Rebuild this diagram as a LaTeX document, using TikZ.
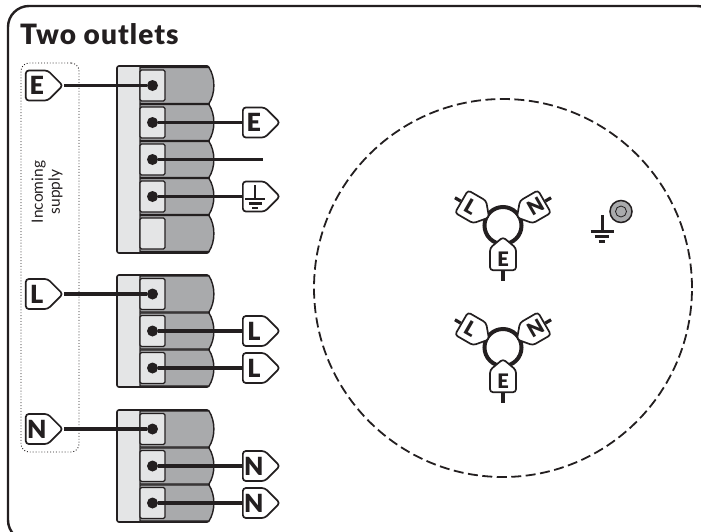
\documentclass[tikz,border=0pt]{standalone}
\usepackage{fontspec}
\setmainfont{Lato}[BoldFont=Lato Black]
\usetikzlibrary{shapes, positioning}
\definecolor{bodygrey}{HTML}{E4E5E6}
\definecolor{cellgrey}{HTML}{A9AAAC}
\definecolor{inkdark}{HTML}{231F20}
\tikzstyle{wire} = [draw=inkdark, line width=3.2pt]
\tikzstyle{blockbody} = [draw=inkdark, fill=bodygrey, line width=1.6pt, rounded corners=2pt]
\tikzstyle{cellbody} = [draw=inkdark, fill=cellgrey, line width=1.4pt]
\tikzstyle{cellbox} = [rectangle, draw=inkdark, fill=bodygrey, line width=1.1pt, rounded corners=1.5pt,
  minimum width=25pt, minimum height=31pt, inner sep=0pt]
\tikzstyle{pin} = [circle, fill=inkdark, minimum size=11pt, inner sep=0pt]
\tikzstyle{tagright} = [signal, signal to=east, draw=inkdark, fill=white, line width=1.7pt,
  rounded corners=3pt, minimum width=37pt, minimum height=30pt, inner sep=0pt,
  text=inkdark, font=\fontsize{25}{25}\selectfont\bfseries]
\tikzstyle{tagup} = [signal, signal to=north, signal pointer angle=100, draw=inkdark, fill=white, line width=1.7pt,
  rounded corners=3pt, minimum width=26pt, minimum height=27pt, inner sep=0pt,
  text=inkdark, font=\fontsize{20}{20}\selectfont\bfseries]

% terminal block: name, top, bottom, row centres
\newcommand{\termblock}[4]{
  \draw [blockbody] (117,#2) rectangle (209,#3);
  \foreach \y [count=\n] in {#4} {
    \draw [cellbody] (140,\y-18) -- (209,\y-18) .. controls (215.5,\y-8) and (215.5,\y+8) .. (209,\y+18) -- (140,\y+18) -- cycle;
    \node [cellbox] (#1box\n) at (152.5,\y) {};
  }
}
% three tags round a ring: name, ring centre y
\newcommand{\outletsym}[2]{
  \node [circle, draw=inkdark, line width=4pt, minimum size=37pt, inner sep=0pt] (#1ring) at (503,#2) {};
  \foreach \lab/\ang/\gap/\turn in {L/-120/15/90, N/120/15/-90, E/0/10.5/0} {
    \begin{scope}[rotate around={\ang:(503,#2)}, transform shape]
      \coordinate (#1end\lab) at (503,#2+55.5);
      \node [tagup, anchor=north] (#1tag\lab) at (503,#2+\gap) {\rotatebox{\turn}{\lab}};
      \path [wire] (#1tag\lab.south) -- (#1end\lab);
    \end{scope}
  }
}

\tikzset{
  earthmark/.pic={
    \draw [inkdark] (0,0) -- (0,14);
    \draw [inkdark] (-10,14) -- (10,14);
    \draw [inkdark] (-6.5,18.5) -- (6.5,18.5);
    \draw [inkdark] (-3,23) -- (3,23);
  }
}

\begin{document}
\begin{tikzpicture}[x=1pt, y=-1pt]

      %
      % Frame
      %

      \clip (0,0) rectangle (701,531);
      \draw [inkdark, line width=2.4pt, rounded corners=21pt] (8,6) rectangle (718,541);
      \node [anchor=base west, inner sep=0pt, text=inkdark, font=\fontsize{28}{28}\selectfont\bfseries\addfontfeatures{LetterSpace=4}] (title) at (20,44) {Two outlets};

      %
      % Incoming supply
      %

      \node [rectangle, draw=inkdark, dotted, line width=0.9pt, rounded corners=8pt, minimum width=58pt, minimum height=389pt] (supply) at (50,257.5) {};
      \node [rotate=90, align=center, text=inkdark, inner sep=0pt, font=\fontsize{15.5}{17}\selectfont] (supplytext) at (47,192) {Incoming\\supply};

      %
      % Terminal blocks
      %

      \termblock{e}{66}{253}{85.5,122.5,159.5,196.5,233.5}
      \termblock{l}{275}{387}{294,331,368}
      \termblock{n}{410}{522}{429,466,503}

      \foreach \n in {1,2,3,4} \node [pin] (epin\n) at (ebox\n) {};
      \foreach \n in {1,2,3} \node [pin] (lpin\n) at (lbox\n) {};
      \foreach \n in {1,2,3} \node [pin] (npin\n) at (nbox\n) {};

      %
      % Tags
      %

      \node [tagright, anchor=east] (einc) at (64,85.5) {E};
      \node [tagright, anchor=west] (eout1) at (242,122.5) {E};
      \node [tagright, anchor=west] (eout2) at (242,196.5) {};
      \coordinate (efree) at (263,159.5);
      \pic [line width=2.2pt] at (255,185) {earthmark};

      \node [tagright, anchor=east] (linc) at (64,294) {L};
      \node [tagright, anchor=west] (lout1) at (242,331) {L};
      \node [tagright, anchor=west] (lout2) at (242,368) {L};

      \node [tagright, anchor=east] (ninc) at (64,429) {N};
      \node [tagright, anchor=west] (nout1) at (242,466) {N};
      \node [tagright, anchor=west] (nout2) at (242,503) {N};

      \path [wire] (einc.east) -- (epin1);
      \path [wire] (epin2) -- (eout1.west);
      \path [wire] (epin3) -- (efree);
      \path [wire] (epin4) -- (eout2.west);
      \path [wire] (linc.east) -- (lpin1);
      \path [wire] (lpin2) -- (lout1.west);
      \path [wire] (lpin3) -- (lout2.west);
      \path [wire] (ninc.east) -- (npin1);
      \path [wire] (npin2) -- (nout1.west);
      \path [wire] (npin3) -- (nout2.west);

      %
      % Outlet box
      %

      \node [circle, draw=inkdark, dashed, dash pattern=on 10pt off 4.5pt, line width=1.8pt, minimum size=378pt, inner sep=0pt] (outletbox) at (503,288) {};
      \outletsym{top}{225.5}
      \outletsym{low}{347.5}

      \pic [scale=1.15, line width=3pt] at (602,215) {earthmark};
      \node [circle, draw=inkdark, fill=cellgrey, line width=1.5pt, minimum size=22pt, inner sep=0pt] (stud) at (621,211.5) {};
      \node [circle, draw=inkdark, line width=0.8pt, minimum size=11pt, inner sep=0pt] (studhole) at (stud) {};

\end{tikzpicture}
\end{document}
